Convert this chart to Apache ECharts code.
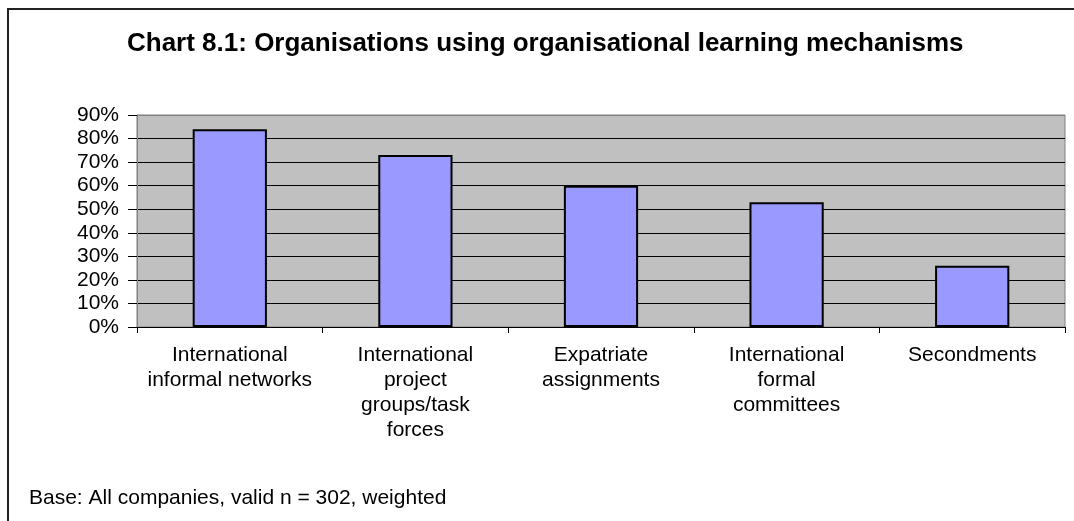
<!DOCTYPE html>
<html>
<head>
<meta charset="utf-8">
<script src="https://cdn.jsdelivr.net/npm/echarts@6/dist/echarts.min.js"></script>
<style>
  html, body { margin: 0; padding: 0; background: #fff; overflow: hidden; }
  .frame {
    position: absolute; left: 7px; top: 8px; width: 1200px; height: 700px;
    border-top: 2px solid #222; border-left: 2px solid #222;
  }
  #chart { position: absolute; left: 0; top: 0; width: 1074px; height: 521px; }
</style>
</head>
<body>
<div class="frame"></div>
<div id="chart"></div>
<script>
// categories (line breaks as wrapped in the original)
const categories = [
  'International\ninformal networks',
  'International\nproject\ngroups/task\nforces',
  'Expatriate\nassignments',
  'International\nformal\ncommittees',
  'Secondments'
]
// share of organisations, %
const usage = [84, 73, 60, 53, 26]
const yTicks = [0, 10, 20, 30, 40, 50, 60, 70, 80, 90]

const chart = echarts.init(document.getElementById('chart'))
const FONT = '"Liberation Sans", Arial, sans-serif'

// last gridline (top edge) is grey like the plot frame
const gridColors = yTicks.map((v, i) => (i === yTicks.length - 1 ? '#808080' : '#000'))

chart.setOption({
  animation: false,
  textStyle: { fontFamily: FONT },
  title: [
    {
      text: 'Chart 8.1: Organisations using organisational learning mechanisms',
      left: 122,
      top: 26,
      textStyle: { fontFamily: FONT, fontSize: 26, fontWeight: 'bold', color: '#000' }
    },
    {
      text: 'Base: All companies, valid n = 302, weighted',
      left: 24,
      top: 483,
      textStyle: { fontFamily: FONT, fontSize: 21, fontWeight: 'normal', color: '#000' }
    }
  ],
  grid: {
    left: 137, right: 9, top: 115, bottom: 194,
    show: true, backgroundColor: '#c0c0c0', borderColor: '#808080', borderWidth: 1
  },
  xAxis: {
    type: 'category',
    data: categories,
    axisLine: { lineStyle: { color: '#000', width: 1 } },
    axisTick: { show: true, length: 6, lineStyle: { color: '#000' } },
    axisLabel: {
      interval: 0, margin: 16, color: '#000',
      fontFamily: FONT, fontSize: 21, lineHeight: 25, align: 'center'
    }
  },
  yAxis: {
    type: 'value',
    min: 0, max: 90, interval: 10,
    axisLine: { show: true, lineStyle: { color: '#808080', width: 1 } },
    axisTick: { show: true, length: 9, lineStyle: { color: '#000' } },
    axisLabel: { formatter: '{value}%', margin: 18, color: '#000', fontFamily: FONT, fontSize: 21 },
    splitLine: { show: true, lineStyle: { color: gridColors, width: 1 } }
  },
  series: [{
    type: 'bar',
    data: usage,
    barWidth: '40%',
    itemStyle: { color: '#9999ff', borderColor: '#000', borderWidth: 2 }
  }]
})
</script>
</body>
</html>
